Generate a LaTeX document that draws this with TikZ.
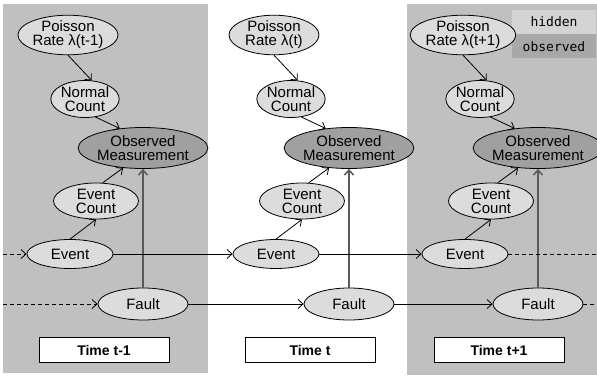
\documentclass[tikz,border=0pt]{standalone}
\usepackage{fontspec}
\setmainfont{Liberation Sans}
\newfontfamily\legendfont{DejaVu Sans Mono}
\usetikzlibrary{shapes.geometric,arrows.meta}
\definecolor{panelgray}{HTML}{C0C0C0}
\definecolor{hidfill}{HTML}{DCDCDC}
\definecolor{obsfill}{HTML}{A0A0A0}
\definecolor{leghid}{HTML}{D4D4D4}
\definecolor{legobs}{HTML}{A8A8A8}
\tikzset{
  hidden/.style={ellipse, draw, fill=hidfill, line width=0.8pt, inner sep=0pt,
    align=center, font=\fontsize{15}{14}\selectfont},
  observed/.style={hidden, fill=obsfill},
  timebox/.style={draw, fill=white, line width=0.8pt, minimum width=130pt,
    minimum height=25pt, font=\fontsize{14}{14}\selectfont\bfseries},
  arr/.style={-{Straight Barb[length=5pt,width=9pt]}, line width=0.8pt},
  faultarr/.style={arr, line width=1.5pt, draw=black!65},
  pastline/.style={arr, dash pattern=on 4pt off 3pt},
  nextline/.style={line width=0.8pt, dash pattern=on 4pt off 3pt}
}
\begin{document}
\begin{tikzpicture}[x=1pt, y=-1pt]
\useasboundingbox (0,0) rectangle (597,375);
% shaded time slices
\fill[panelgray] (3,4) rectangle (208,373);
\fill[panelgray] (407,4) rectangle (597,375);
% legend
\node[fill=leghid, minimum width=84pt, minimum height=24pt, inner sep=0pt,
  font=\legendfont\fontsize{13}{13}\selectfont] (leghidden) at (554,22) {hidden};
\node[fill=legobs, minimum width=84pt, minimum height=24pt, inner sep=0pt,
  font=\legendfont\fontsize{13}{13}\selectfont, anchor=north] (legobserved) at (leghidden.south) {observed};
% one slice per time step
\foreach \c/\dx/\t in {1/0/t-1, 2/206/t, 3/395/t+1}{
  \node[hidden, minimum width=90pt, minimum height=36pt] (pr\c) at (68+\dx,35) {Poisson\\Rate λ(\t)};
  \node[hidden, minimum width=66pt, minimum height=37pt] (nc\c) at (85+\dx,99) {Normal\\Count};
  \node[observed, minimum width=110pt, minimum height=41pt] (om\c) at (143+\dx,148) {Observed\\Measurement};
  \node[hidden, minimum width=85pt, minimum height=36pt] (ec\c) at (96+\dx,201) {Event\\Count};
  \node[hidden, minimum width=86pt, minimum height=29pt] (ev\c) at (70+\dx,254) {Event};
  \node[hidden, minimum width=90pt, minimum height=32pt] (fa\c) at (143+\dx,304) {Fault};
  \node[timebox] (time\c) at (104+\dx,350) {Time \t};
  \draw[arr] (pr\c.south) -- (nc\c.70);
  \draw[arr] (nc\c.-60) -- (om\c.140);
  \draw[arr] (ec\c.70) -- (om\c.225);
  \draw[arr] (ev\c.north) -- (ec\c.south);
  \draw[faultarr] (fa\c.north) -- (om\c.south);
}
% links between time steps
\coordinate (evin) at (3,254);
\coordinate (fain) at (3,304);
\coordinate (evout) at (597,254);
\coordinate (faout) at (597,304);
\draw[pastline] (evin) -- (ev1.west);
\draw[pastline] (fain) -- (fa1.west);
\draw[arr] (ev1.east) -- (ev2.west);
\draw[arr] (ev2.east) -- (ev3.west);
\draw[arr] (fa1.east) -- (fa2.west);
\draw[arr] (fa2.east) -- (fa3.west);
\draw[nextline] (ev3.east) -- (evout);
\draw[nextline] (fa3.east) -- (faout);
\end{tikzpicture}
\end{document}
